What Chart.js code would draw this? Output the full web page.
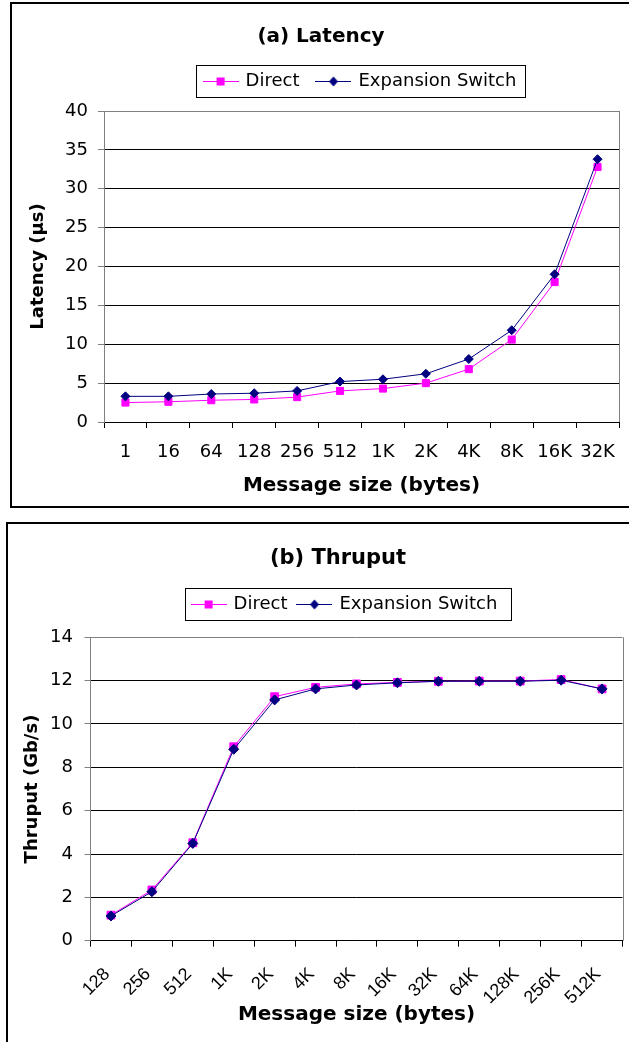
<!DOCTYPE html>
<html>
<head>
<meta charset="utf-8">
<title>Latency and Thruput</title>
<script src="https://cdn.jsdelivr.net/npm/chart.js@4/dist/chart.umd.min.js"></script>
<style>
  body { margin: 0; background: #fff; overflow: hidden; width: 629px; height: 1042px; position: relative; }
  .frame { position: absolute; border: 2px solid #000; box-sizing: border-box; pointer-events: none; }
  canvas { position: absolute; left: 0; }
</style>
</head>
<body>
<div class="frame" style="left:10px; top:2px; width:640px; height:506px;"></div>
<div class="frame" style="left:6px; top:522px; width:640px; height:600px;"></div>
<canvas id="latencyChart" width="629" height="510" style="top:0"></canvas>
<canvas id="thruputChart" width="629" height="522" style="top:520px"></canvas>
<script>
// (a) Latency, in microseconds
const latencySizes = ["1", "16", "64", "128", "256", "512", "1K", "2K", "4K", "8K", "16K", "32K"];
const latencyDirect = [2.5, 2.6, 2.8, 2.9, 3.2, 4.0, 4.3, 5.0, 6.8, 10.6, 18.0, 32.8];
const latencySwitch = [3.3, 3.3, 3.6, 3.7, 4.0, 5.2, 5.5, 6.2, 8.1, 11.8, 19.0, 33.8];

// (b) Thruput, in Gb/s
const thruputSizes = ["128", "256", "512", "1K", "2K", "4K", "8K", "16K", "32K", "64K", "128K", "256K", "512K"];
const thruputDirect = [1.18, 2.34, 4.52, 8.95, 11.26, 11.69, 11.85, 11.92, 11.97, 11.98, 11.98, 12.05, 11.62];
const thruputSwitch = [1.14, 2.26, 4.49, 8.83, 11.11, 11.62, 11.8, 11.9, 11.97, 11.97, 11.97, 12.02, 11.62];

const MAGENTA = "#ff00ff";
const NAVY = "#000080";

Chart.defaults.font.family = '"DejaVu Sans", sans-serif';
Chart.defaults.color = "#000";

// small line + marker picture used as legend symbol
function legendSymbol(color, shape) {
  const c = document.createElement("canvas");
  c.width = 36;
  c.height = 14;
  const g = c.getContext("2d");
  g.strokeStyle = color;
  g.fillStyle = color;
  g.lineWidth = 1;
  g.beginPath();
  g.moveTo(0, 7.5);
  g.lineTo(36, 7.5);
  g.stroke();
  if (shape === "rect") {
    g.fillRect(14, 3.5, 8, 8);
  } else {
    g.beginPath();
    g.moveTo(18, 2.5);
    g.lineTo(22.5, 7.5);
    g.lineTo(18, 12.5);
    g.lineTo(13.5, 7.5);
    g.closePath();
    g.fill();
  }
  return c;
}

const symbols = [legendSymbol(MAGENTA, "rect"), legendSymbol(NAVY, "diamond")];

// title text drawn at a fixed spot, like the original sheet
const boxTitle = {
  id: "boxTitle",
  afterDraw(chart, args, opts) {
    const ctx = chart.ctx;
    ctx.save();
    ctx.font = "bold " + opts.size + 'px "DejaVu Sans", sans-serif';
    ctx.fillStyle = "#000";
    ctx.textAlign = "center";
    ctx.textBaseline = "middle";
    ctx.fillText(opts.text, opts.x, opts.y);
    ctx.restore();
  }
};

// nudge legend sideways, box round it, grey right edge of plot area
const frames = {
  id: "frames",
  afterLayout(chart, args, opts) {
    chart.legend.left += opts.shift;
    chart.legend.right += opts.shift;
  },
  afterDraw(chart, args, opts) {
    const ctx = chart.ctx;
    const boxes = chart.legend.legendHitBoxes;
    const left = Math.min(...boxes.map(b => b.left)) - opts.padLeft;
    const right = Math.max(...boxes.map(b => b.left + b.width)) + opts.padRight;
    const cy = boxes[0].top + boxes[0].height / 2;
    ctx.save();
    ctx.strokeStyle = "#000";
    ctx.lineWidth = 1;
    ctx.strokeRect(Math.round(left) + 0.5, Math.round(cy - 16) + 0.5, Math.round(right - left), 32);

    const a = chart.chartArea;
    ctx.strokeStyle = "#808080";
    ctx.beginPath();
    ctx.moveTo(Math.round(a.right) + 0.5, a.top);
    ctx.lineTo(Math.round(a.right) + 0.5, a.bottom);
    ctx.stroke();
    ctx.restore();
  }
};

function makeDatasets(direct, sw, squareR, diamondR) {
  return [
    {
      label: "Direct",
      data: direct,
      borderColor: MAGENTA,
      backgroundColor: MAGENTA,
      borderWidth: 1,
      pointStyle: "rect",
      pointRadius: squareR,
      pointBorderWidth: 1,
      tension: 0,
      order: 1
    },
    {
      label: "Expansion Switch",
      data: sw,
      borderColor: NAVY,
      backgroundColor: NAVY,
      borderWidth: 1,
      pointStyle: "rectRot",
      pointRadius: diamondR,
      pointBorderWidth: 1,
      tension: 0,
      order: 0
    }
  ];
}

function legendOptions(gap) {
  return {
    position: "top",
    fullSize: false,
    labels: {
      usePointStyle: true,
      pointStyleWidth: 32,
      padding: gap,
      font: { size: 18 },
      generateLabels: chart => chart.data.datasets.map((ds, i) => ({
        text: ds.label,
        pointStyle: symbols[i],
        datasetIndex: i,
        fillStyle: ds.borderColor,
        strokeStyle: ds.borderColor,
        lineWidth: 0,
        hidden: false
      }))
    }
  };
}

// empty subtitle used as a gap between legend and plot
function spacer(h) {
  return { display: true, text: "", weight: 500, font: { size: 1, lineHeight: 1 }, padding: { top: h - 1, bottom: 0 } };
}

// fixed axis height, no extra side padding from the labels
function fixHeight(h) {
  return s => {
    s.height = h;
    s.paddingLeft = 0;
    s.paddingRight = 0;
  };
}

// -------------------
// (a) Latency
// -------------------
new Chart(document.getElementById("latencyChart"), {
  type: "line",
  data: { labels: latencySizes, datasets: makeDatasets(latencyDirect, latencySwitch, 5, 4.5) },
  plugins: [boxTitle, frames],
  options: {
    responsive: false,
    animation: false,
    layout: { padding: { top: 54, left: 0, right: 10, bottom: 0 } },
    plugins: {
      legend: legendOptions(18),
      subtitle: spacer(11),
      tooltip: { enabled: false },
      boxTitle: { text: "(a) Latency", x: 321, y: 37, size: 20 },
      frames: { padLeft: 9, padRight: 8, shift: -1 }
    },
    scales: {
      x: {
        offset: true,
        grid: { offset: true, drawOnChartArea: false, tickLength: 6, tickColor: "#000" },
        border: { color: "#000" },
        ticks: { padding: 14, font: { size: 18 }, maxRotation: 0, autoSkip: false },
        title: { display: true, text: "Message size (bytes)", font: { size: 20, weight: "bold" }, padding: { top: 0, bottom: 12 } },
        afterFit: fixHeight(88)
      },
      y: {
        min: 0,
        max: 40,
        ticks: { stepSize: 5, padding: 10, font: { size: 18 } },
        grid: { color: c => (c.tick && c.tick.value === 40 ? "#808080" : "#000"), tickColor: "#808080", tickLength: 6 },
        border: { color: "#808080" },
        title: { display: true, text: "Latency (µs)", font: { size: 18, weight: "bold" }, padding: { top: 27.7, bottom: 0 } },
        afterFit: s => { s.width = 104; }
      }
    }
  }
});

// -------------------
// (b) Thruput
// -------------------
new Chart(document.getElementById("thruputChart"), {
  type: "line",
  data: { labels: thruputSizes, datasets: makeDatasets(thruputDirect, thruputSwitch, 5.5, 5) },
  plugins: [boxTitle, frames],
  options: {
    responsive: false,
    animation: false,
    layout: { padding: { top: 64, left: 0, right: 5.6, bottom: 0 } },
    plugins: {
      legend: legendOptions(11),
      subtitle: spacer(14.3),
      tooltip: { enabled: false },
      boxTitle: { text: "(b) Thruput", x: 338, y: 39, size: 21 },
      frames: { padLeft: 8, padRight: 13, shift: -11.5 }
    },
    scales: {
      x: {
        offset: true,
        grid: { offset: true, drawOnChartArea: false, tickLength: 6, tickColor: "#000" },
        border: { color: "#000" },
        ticks: {
          padding: 17,
          labelOffset: -4,
          font: { family: '"Liberation Sans", Arial, sans-serif', size: 18 },
          minRotation: 45,
          maxRotation: 45,
          autoSkip: false
        },
        title: { display: true, text: "Message size (bytes)", font: { size: 20, weight: "bold" }, padding: { top: 0, bottom: 15 } },
        afterFit: fixHeight(101.3)
      },
      y: {
        min: 0,
        max: 14,
        ticks: { stepSize: 2, padding: 11.5, font: { size: 18 } },
        grid: { color: c => (c.tick && c.tick.value === 14 ? "#808080" : "#000"), tickColor: "#808080", tickLength: 6 },
        border: { color: "#808080" },
        title: { display: true, text: "Thruput (Gb/s)", font: { size: 18, weight: "bold" }, padding: { top: 21.2, bottom: 0 } },
        afterFit: s => { s.width = 90.5; }
      }
    }
  }
});
</script>
</body>
</html>
